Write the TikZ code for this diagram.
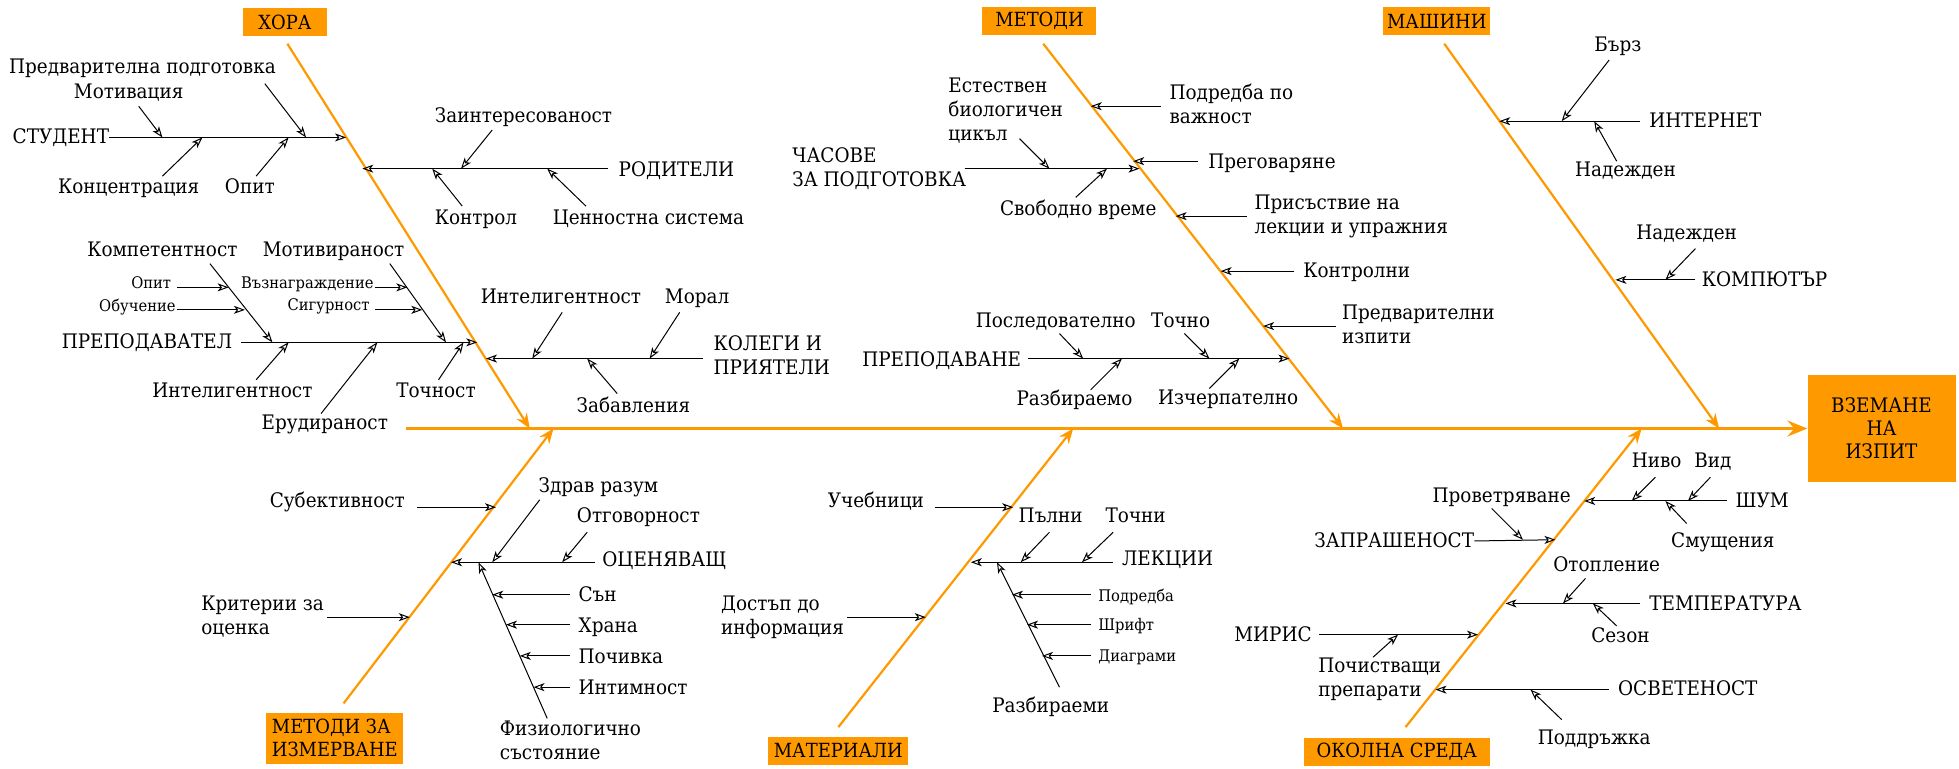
\documentclass[tikz,border=0pt]{standalone}
\usepackage{fontspec}
\setmainfont{DejaVu Serif}[FakeStretch=0.92]
\usepackage{tikz}
\usetikzlibrary{arrows.meta}
\definecolor{boneorange}{RGB}{255,153,0}
\tikzstyle{category} = [rectangle, fill=boneorange, minimum height=28pt, inner xsep=4pt, inner ysep=3pt, align=left, font=\fontsize{19.5}{23}\selectfont]
\tikzstyle{effect} = [rectangle, fill=boneorange, minimum width=148pt, minimum height=107pt, align=center, font=\fontsize{20}{23}\selectfont]
\tikzstyle{cause} = [inner sep=0pt, text depth=0.22em, align=left, font=\fontsize{20}{24}\selectfont]
\tikzstyle{minor} = [inner sep=0pt, text depth=0.22em, font=\fontsize{16}{18}\selectfont]
\tikzstyle{spine} = [boneorange, line width=3.2pt, -{Stealth[length=20pt,width=16pt,inset=7pt]}]
\tikzstyle{bone} = [boneorange, line width=2.2pt, -{Stealth[length=15pt,width=12pt,inset=5pt]}]
\tikzstyle{arrow} = [black, line width=1pt, -{Stealth[open,length=11pt,width=8pt,inset=3pt]}]

\begin{document}
\begin{tikzpicture}[x=1.2494pt, y=-1.2494pt]
\useasboundingbox (0,0) rectangle (1568,615);

% effect and spine
\node (head) [effect] at (1506,343) {ВЗЕМАНЕ\\НА\\ИЗПИТ};
\coordinate (spineTail) at (325,343);
\draw [spine] (spineTail) -- (head);

% categories
\node (hora) [category, minimum width=84pt] at (228,18) {ХОРА};
\node (metodi) [category, minimum width=114pt] at (832,17) {МЕТОДИ};
\node (mashini) [category, minimum width=107pt] at (1150,17) {МАШИНИ};
\node (izmervane) [category, minimum width=137pt, minimum height=51pt] at (268,591) {МЕТОДИ ЗА\\ИЗМЕРВАНЕ};
\node (materiali) [category, minimum width=140pt] at (671,601) {МАТЕРИАЛИ};
\node (okolna) [category, minimum width=186pt] at (1118,602) {ОКОЛНА СРЕДА};

% bones
\coordinate (horaTop) at (230,35); \coordinate (horaTip) at (424,343);
\coordinate (metodiTop) at (835,35); \coordinate (metodiTip) at (1075,343);
\coordinate (mashiniTop) at (1156,35); \coordinate (mashiniTip) at (1376,343);
\coordinate (izmervaneBot) at (275,563); \coordinate (izmervaneTip) at (443,343);
\coordinate (materialiBot) at (671,582); \coordinate (materialiTip) at (859,343);
\coordinate (okolnaBot) at (1125,582); \coordinate (okolnaTip) at (1314,343);
\draw [bone] (horaTop) -- (horaTip);
\draw [bone] (metodiTop) -- (metodiTip);
\draw [bone] (mashiniTop) -- (mashiniTip);
\draw [bone] (izmervaneBot) -- (izmervaneTip);
\draw [bone] (materialiBot) -- (materialiTip);
\draw [bone] (okolnaBot) -- (okolnaTip);

% ХОРА
\node (student) [cause, anchor=west] at (10,110) {СТУДЕНТ};
\coordinate (studentTip) at (277,110);
\draw [arrow] (student.east) -- (studentTip);
\node (predv) [cause] at (114,54) {Предварителна подготовка};
\coordinate (predvA) at (212,67); \coordinate (predvB) at (245,110);
\draw [arrow] (predvA) -- (predvB);
\node (motiv) [cause] at (103,74) {Мотивация};
\coordinate (motivA) at (111,85); \coordinate (motivB) at (130,110);
\draw [arrow] (motivA) -- (motivB);
\node (konc) [cause] at (103,150) {Концентрация};
\coordinate (koncA) at (130,141); \coordinate (koncB) at (162,110);
\draw [arrow] (koncA) -- (koncB);
\node (opitS) [cause] at (200,150) {Опит};
\coordinate (opitSA) at (205,141); \coordinate (opitSB) at (231,110);
\draw [arrow] (opitSA) -- (opitSB);

\node (roditeli) [cause, anchor=west] at (495,136) {РОДИТЕЛИ};
\coordinate (roditeliA) at (487,135); \coordinate (roditeliB) at (290,135);
\draw [arrow] (roditeliA) -- (roditeliB);
\node (zaint) [cause] at (419,93) {Заинтересованост};
\coordinate (zaintA) at (394,104); \coordinate (zaintB) at (369,135);
\draw [arrow] (zaintA) -- (zaintB);
\node (kontrol) [cause] at (381,175) {Контрол};
\coordinate (kontrolA) at (370,165); \coordinate (kontrolB) at (346,135);
\draw [arrow] (kontrolA) -- (kontrolB);
\node (cennost) [cause] at (519,175) {Ценностна система};
\coordinate (cennostA) at (469,165); \coordinate (cennostB) at (438,135);
\draw [arrow] (cennostA) -- (cennostB);

\node (prepodavatel) [cause, anchor=east] at (186,274) {ПРЕПОДАВАТЕЛ};
\coordinate (prepodavatelA) at (193,274); \coordinate (prepodavatelB) at (382,274);
\draw [arrow] (prepodavatelA) -- (prepodavatelB);
\node (kompet) [cause] at (130,200) {Компетентност};
\coordinate (kompetA) at (168,211); \coordinate (kompetB) at (218,274);
\draw [arrow] (kompetA) -- (kompetB);
\node (opitP) [minor] at (121,227) {Опит};
\coordinate (opitPA) at (142,230); \coordinate (opitPB) at (183,230);
\draw [arrow] (opitPA) -- (opitPB);
\node (obuch) [minor] at (110,245) {Обучение};
\coordinate (obuchA) at (142,248); \coordinate (obuchB) at (196,248);
\draw [arrow] (obuchA) -- (obuchB);
\node (motivir) [cause] at (267,200) {Мотивираност};
\coordinate (motivirA) at (312,211); \coordinate (motivirB) at (357,274);
\draw [arrow] (motivirA) -- (motivirB);
\node (vazn) [minor] at (246,227) {Възнаграждение};
\coordinate (vaznA) at (300,230); \coordinate (vaznB) at (326,230);
\draw [arrow] (vaznA) -- (vaznB);
\node (sigur) [minor] at (263,245) {Сигурност};
\coordinate (sigurA) at (300,248); \coordinate (sigurB) at (338,248);
\draw [arrow] (sigurA) -- (sigurB);
\node (intelP) [cause] at (186,313) {Интелигентност};
\coordinate (intelPA) at (205,304); \coordinate (intelPB) at (231,274);
\draw [arrow] (intelPA) -- (intelPB);
\node (erud) [cause] at (260,339) {Ерудираност};
\coordinate (erudA) at (257,331); \coordinate (erudB) at (302,274);
\draw [arrow] (erudA) -- (erudB);
\node (tochnost) [cause] at (349,313) {Точност};
\coordinate (tochnostA) at (351,304); \coordinate (tochnostB) at (371,274);
\draw [arrow] (tochnostA) -- (tochnostB);

\node (kolegi) [cause, anchor=west] at (571,285) {КОЛЕГИ И\\ПРИЯТЕЛИ};
\coordinate (kolegiA) at (563,287); \coordinate (kolegiB) at (389,287);
\draw [arrow] (kolegiA) -- (kolegiB);
\node (intelK) [cause] at (449,238) {Интелигентност};
\coordinate (intelKA) at (450,250); \coordinate (intelKB) at (426,287);
\draw [arrow] (intelKA) -- (intelKB);
\node (moral) [cause] at (558,238) {Морал};
\coordinate (moralA) at (544,250); \coordinate (moralB) at (520,287);
\draw [arrow] (moralA) -- (moralB);
\node (zabav) [cause] at (507,325) {Забавления};
\coordinate (zabavA) at (494,315); \coordinate (zabavB) at (470,287);
\draw [arrow] (zabavA) -- (zabavB);

% МЕТОДИ ЗА ИЗМЕРВАНЕ
\node (subekt) [cause] at (270,401) {Субективност};
\coordinate (subektA) at (334,406); \coordinate (subektB) at (397,406);
\draw [arrow] (subektA) -- (subektB);
\node (kriterii) [cause, anchor=west] at (161,493) {Критерии за\\оценка};
\coordinate (kriteriiA) at (262,494); \coordinate (kriteriiB) at (328,494);
\draw [arrow] (kriteriiA) -- (kriteriiB);
\node (ocen) [cause, anchor=west] at (482,448) {ОЦЕНЯВАЩ};
\coordinate (ocenA) at (476,450); \coordinate (ocenB) at (361,450);
\draw [arrow] (ocenA) -- (ocenB);
\node (zdrav) [cause] at (479,389) {Здрав разум};
\coordinate (zdravA) at (432,400); \coordinate (zdravB) at (394,450);
\draw [arrow] (zdravA) -- (zdravB);
\node (otgov) [cause] at (511,413) {Отговорност};
\coordinate (otgovA) at (470,426); \coordinate (otgovB) at (450,450);
\draw [arrow] (otgovA) -- (otgovB);
\node (fiziol) [cause, anchor=west] at (400,593) {Физиологично\\състояние};
\coordinate (fiziolA) at (438,575); \coordinate (fiziolB) at (383,450);
\draw [arrow] (fiziolA) -- (fiziolB);
\node (san) [cause, anchor=west] at (463,476) {Сън};
\coordinate (sanA) at (456,476); \coordinate (sanB) at (394,476);
\draw [arrow] (sanA) -- (sanB);
\node (hrana) [cause, anchor=west] at (463,501) {Храна};
\coordinate (hranaA) at (456,500); \coordinate (hranaB) at (405,500);
\draw [arrow] (hranaA) -- (hranaB);
\node (pochivka) [cause, anchor=west] at (463,526) {Почивка};
\coordinate (pochivkaA) at (456,525); \coordinate (pochivkaB) at (416,525);
\draw [arrow] (pochivkaA) -- (pochivkaB);
\node (intim) [cause, anchor=west] at (463,551) {Интимност};
\coordinate (intimA) at (456,550); \coordinate (intimB) at (427,550);
\draw [arrow] (intimA) -- (intimB);

% МАТЕРИАЛИ
\node (ucheb) [cause] at (701,401) {Учебници};
\coordinate (uchebA) at (748,406); \coordinate (uchebB) at (811,406);
\draw [arrow] (uchebA) -- (uchebB);
\node (dostap) [cause, anchor=west] at (577,493) {Достъп до\\информация};
\coordinate (dostapA) at (678,494); \coordinate (dostapB) at (741,494);
\draw [arrow] (dostapA) -- (dostapB);
\node (lekcii) [cause, anchor=west] at (898,448) {ЛЕКЦИИ};
\coordinate (lekciiA) at (891,450); \coordinate (lekciiB) at (777,450);
\draw [arrow] (lekciiA) -- (lekciiB);
\node (palni) [cause] at (841,413) {Пълни};
\coordinate (palniA) at (840,426); \coordinate (palniB) at (817,450);
\draw [arrow] (palniA) -- (palniB);
\node (tochni) [cause] at (909,413) {Точни};
\coordinate (tochniA) at (891,426); \coordinate (tochniB) at (866,450);
\draw [arrow] (tochniA) -- (tochniB);
\node (razbir) [cause] at (841,565) {Разбираеми};
\coordinate (razbirA) at (848,550); \coordinate (razbirB) at (798,450);
\draw [arrow] (razbirA) -- (razbirB);
\node (podredba) [minor, anchor=west] at (879,477) {Подредба};
\coordinate (podredbaA) at (873,476); \coordinate (podredbaB) at (810,476);
\draw [arrow] (podredbaA) -- (podredbaB);
\node (shrift) [minor, anchor=west] at (879,501) {Шрифт};
\coordinate (shriftA) at (873,500); \coordinate (shriftB) at (822,500);
\draw [arrow] (shriftA) -- (shriftB);
\node (diagr) [minor, anchor=west] at (879,526) {Диаграми};
\coordinate (diagrA) at (873,525); \coordinate (diagrB) at (834,525);
\draw [arrow] (diagrA) -- (diagrB);

% МЕТОДИ
\node (chasove) [cause, anchor=west] at (634,135) {ЧАСОВЕ\\ЗА ПОДГОТОВКА};
\coordinate (chasoveA) at (772,135); \coordinate (chasoveB) at (912,135);
\draw [arrow] (chasoveA) -- (chasoveB);
\node (estest) [cause, anchor=west] at (759,88) {Естествен\\биологичен\\цикъл};
\coordinate (estestA) at (816,111); \coordinate (estestB) at (840,135);
\draw [arrow] (estestA) -- (estestB);
\node (svob) [cause] at (863,167) {Свободно време};
\coordinate (svobA) at (861,158); \coordinate (svobB) at (886,135);
\draw [arrow] (svobA) -- (svobB);
\node (vajnost) [cause, anchor=west] at (936,84) {Подредба по\\важност};
\coordinate (vajnostA) at (929,85); \coordinate (vajnostB) at (873,85);
\draw [arrow] (vajnostA) -- (vajnostB);
\node (pregov) [cause, anchor=west] at (967,130) {Преговаряне};
\coordinate (pregovA) at (959,129); \coordinate (pregovB) at (907,129);
\draw [arrow] (pregovA) -- (pregovB);
\node (prisast) [cause, anchor=west] at (1004,172) {Присъствие на\\лекции и упражния};
\coordinate (prisastA) at (998,173); \coordinate (prisastB) at (941,173);
\draw [arrow] (prisastA) -- (prisastB);
\node (kontrolni) [cause, anchor=west] at (1043,217) {Контролни};
\coordinate (kontrolniA) at (1036,217); \coordinate (kontrolniB) at (977,217);
\draw [arrow] (kontrolniA) -- (kontrolniB);
\node (predvizp) [cause, anchor=west] at (1074,260) {Предварителни\\изпити};
\coordinate (predvizpA) at (1069,261); \coordinate (predvizpB) at (1011,261);
\draw [arrow] (predvizpA) -- (predvizpB);
\node (prepodavane) [cause, anchor=west] at (690,288) {ПРЕПОДАВАНЕ};
\coordinate (prepodavaneA) at (823,287); \coordinate (prepodavaneB) at (1032,287);
\draw [arrow] (prepodavaneA) -- (prepodavaneB);
\node (posled) [cause] at (845,257) {Последователно};
\coordinate (posledA) at (848,267); \coordinate (posledB) at (867,287);
\draw [arrow] (posledA) -- (posledB);
\node (tochno) [cause] at (945,257) {Точно};
\coordinate (tochnoA) at (948,267); \coordinate (tochnoB) at (968,287);
\draw [arrow] (tochnoA) -- (tochnoB);
\node (razbiraemo) [cause] at (860,319) {Разбираемо};
\coordinate (razbiraemoA) at (873,312); \coordinate (razbiraemoB) at (898,287);
\draw [arrow] (razbiraemoA) -- (razbiraemoB);
\node (izcherp) [cause] at (983,319) {Изчерпателно};
\coordinate (izcherpA) at (968,311); \coordinate (izcherpB) at (992,287);
\draw [arrow] (izcherpA) -- (izcherpB);

% МАШИНИ
\node (internet) [cause, anchor=west] at (1320,97) {ИНТЕРНЕТ};
\coordinate (internetA) at (1313,97); \coordinate (internetB) at (1200,97);
\draw [arrow] (internetA) -- (internetB);
\node (barz) [cause] at (1295,36) {Бърз};
\coordinate (barzA) at (1288,48); \coordinate (barzB) at (1250,97);
\draw [arrow] (barzA) -- (barzB);
\node (nadejI) [cause] at (1301,136) {Надежден};
\coordinate (nadejIA) at (1294,129); \coordinate (nadejIB) at (1276,97);
\draw [arrow] (nadejIA) -- (nadejIB);
\node (komp) [cause, anchor=west] at (1362,224) {КОМПЮТЪР};
\coordinate (kompA) at (1357,224); \coordinate (kompB) at (1293,224);
\draw [arrow] (kompA) -- (kompB);
\node (nadejK) [cause] at (1350,187) {Надежден};
\coordinate (nadejKA) at (1357,199); \coordinate (nadejKB) at (1333,224);
\draw [arrow] (nadejKA) -- (nadejKB);

% ОКОЛНА СРЕДА
\node (shum) [cause, anchor=west] at (1389,401) {ШУМ};
\coordinate (shumA) at (1382,401); \coordinate (shumB) at (1268,401);
\draw [arrow] (shumA) -- (shumB);
\node (nivo) [cause] at (1326,369) {Ниво};
\coordinate (nivoA) at (1325,382); \coordinate (nivoB) at (1306,401);
\draw [arrow] (nivoA) -- (nivoB);
\node (vid) [cause] at (1371,369) {Вид};
\coordinate (vidA) at (1369,382); \coordinate (vidB) at (1351,401);
\draw [arrow] (vidA) -- (vidB);
\node (smusht) [cause] at (1379,433) {Смущения};
\coordinate (smushtA) at (1350,419); \coordinate (smushtB) at (1333,401);
\draw [arrow] (smushtA) -- (smushtB);
\node (zapr) [cause, anchor=east] at (1180,433) {ЗАПРАШЕНОСТ};
\coordinate (zaprB) at (1245,432);
\draw [arrow] (zapr.east) -- (zaprB);
\node (provetr) [cause] at (1202,397) {Проветряване};
\coordinate (provetrA) at (1194,407); \coordinate (provetrB) at (1219,432);
\draw [arrow] (provetrA) -- (provetrB);
\node (temp) [cause, anchor=west] at (1320,484) {ТЕМПЕРАТУРА};
\coordinate (tempA) at (1313,483); \coordinate (tempB) at (1205,483);
\draw [arrow] (tempA) -- (tempB);
\node (otopl) [cause] at (1286,452) {Отопление};
\coordinate (otoplA) at (1269,463); \coordinate (otoplB) at (1251,483);
\draw [arrow] (otoplA) -- (otoplB);
\node (sezon) [cause] at (1297,509) {Сезон};
\coordinate (sezonA) at (1294,501); \coordinate (sezonB) at (1275,483);
\draw [arrow] (sezonA) -- (sezonB);
\node (miris) [cause, anchor=east] at (1050,508) {МИРИС};
\coordinate (mirisA) at (1056,508); \coordinate (mirisB) at (1183,508);
\draw [arrow] (mirisA) -- (mirisB);
\node (pochist) [cause, anchor=west] at (1055,543) {Почистващи\\препарати};
\coordinate (pochistA) at (1099,526); \coordinate (pochistB) at (1119,508);
\draw [arrow] (pochistA) -- (pochistB);
\node (osvet) [cause, anchor=west] at (1295,552) {ОСВЕТЕНОСТ};
\coordinate (osvetA) at (1288,552); \coordinate (osvetB) at (1149,552);
\draw [arrow] (osvetA) -- (osvetB);
\node (poddr) [cause] at (1276,591) {Поддръжка};
\coordinate (poddrA) at (1250,576); \coordinate (poddrB) at (1225,552);
\draw [arrow] (poddrA) -- (poddrB);

\end{tikzpicture}
\end{document}
